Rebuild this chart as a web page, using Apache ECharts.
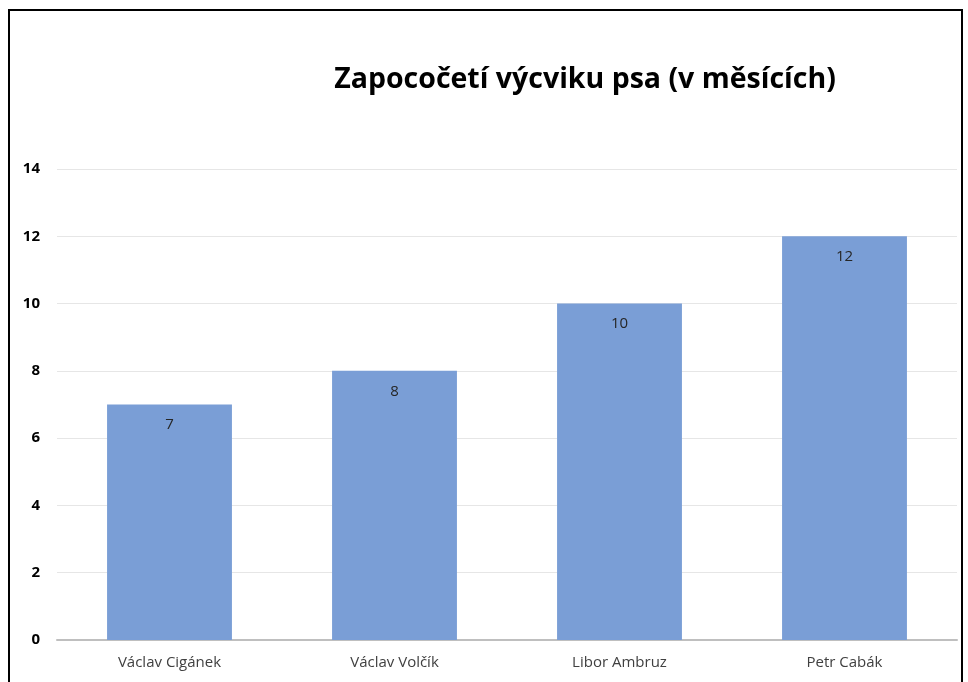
<!DOCTYPE html>
<html>
<head>
<meta charset="utf-8">
<script src="https://cdn.jsdelivr.net/npm/echarts@6/dist/echarts.min.js"></script>
<style>
	html, body { margin: 0; padding: 0; background: #fff; }
	#main { width: 968px; height: 682px; }
</style>
</head>
<body>
<div id="main"></div>
<script>
var names = ['Václav Cigánek', 'Václav Volčík', 'Libor Ambruz', 'Petr Cabák'];
var months = [7, 8, 10, 12];
var yTicks = [0, 2, 4, 6, 8, 10, 12, 14];

var chart = echarts.init(document.getElementById('main'));
var option = {
	backgroundColor: '#ffffff',
	animation: false,
	title: {
		text: 'Zapocočetí výcviku psa (v měsících)',
		left: 580,
		top: 60,
		textAlign: 'center',
		textStyle: {
			fontFamily: 'Open Sans',
			fontWeight: 'bold',
			fontSize: 28.5,
			color: '#000000'
		}
	},
	graphic: [{
		type: 'polyline',
		shape: { points: [[9, 682], [9, 10], [962, 10], [962, 682]] },
		style: { stroke: '#000000', lineWidth: 2, fill: null }
	}],
	grid: {
		left: 57,
		right: 11,
		top: 169,
		bottom: 42
	},
	xAxis: {
		type: 'category',
		data: names,
		axisTick: { show: false },
		axisLine: { lineStyle: { color: '#BFBFBF', width: 2 } },
		axisLabel: {
			color: '#404040',
			fontFamily: 'Open Sans',
			fontSize: 15,
			margin: 15
		}
	},
	yAxis: {
		type: 'value',
		min: yTicks[0],
		max: yTicks[yTicks.length - 1],
		interval: 2,
		axisLine: { show: false },
		axisTick: { show: false },
		splitLine: { lineStyle: { color: '#E6E6E6', width: 1 } },
		axisLabel: {
			color: '#000000',
			fontFamily: 'Open Sans',
			fontWeight: 'bold',
			fontSize: 15,
			margin: 17
		}
	},
	series: [{
		type: 'bar',
		data: months,
		barWidth: '55.5%',
		itemStyle: { color: '#7A9ED6' },
		label: {
			show: true,
			position: 'insideTop',
			distance: 13,
			color: '#262626',
			fontFamily: 'Open Sans',
			fontSize: 15
		}
	}]
};
chart.setOption(option);
</script>
</body>
</html>
